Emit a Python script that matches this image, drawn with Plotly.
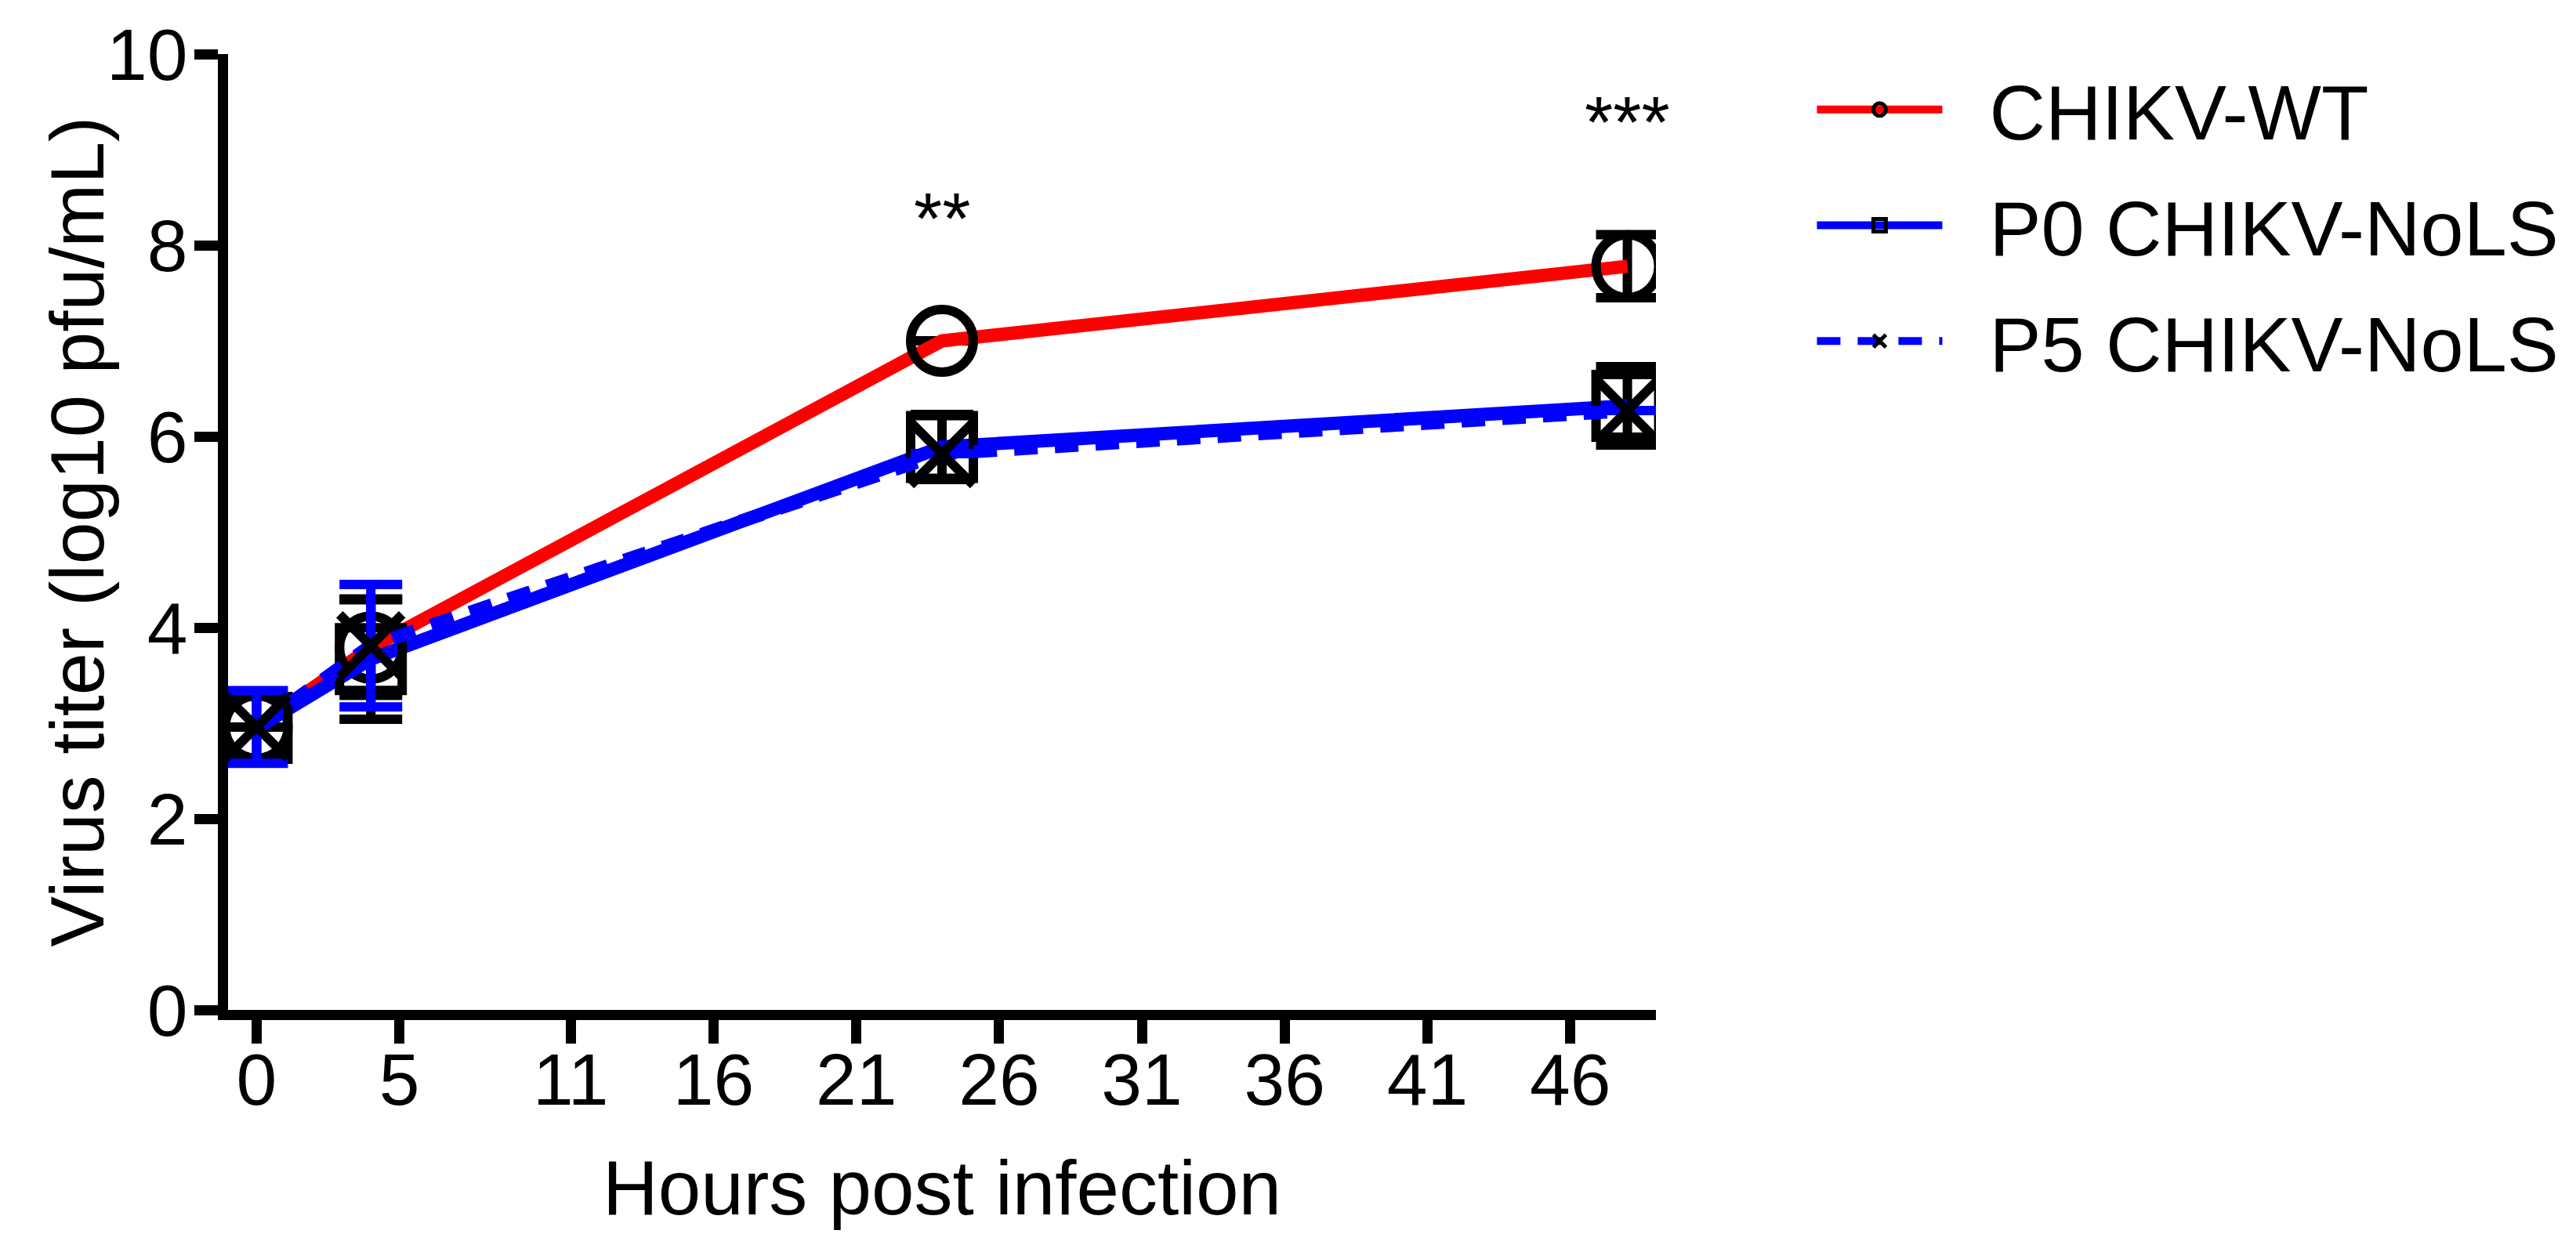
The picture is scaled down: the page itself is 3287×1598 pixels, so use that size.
import plotly.graph_objects as go

# ---- data ----
hours = [0, 4, 24, 48]

wt_titer = [2.96, 3.79, 7.00, 7.78]
wt_err = [0.0, 0.50, 0.0, 0.33]

p0_titer = [2.95, 3.67, 5.89, 6.32]
p0_err = [0.33, 0.63, 0.34, 0.41]

p5_titer = [2.96, 3.81, 5.82, 6.27]
p5_err = [0.38, 0.64, 0.0, 0.0]

series_names = ["\u00a0\u00a0CHIKV-WT", "\u00a0\u00a0P0 CHIKV-NoLS", "\u00a0\u00a0P5 CHIKV-NoLS"]

x_tickvals = [0, 5, 11, 16, 21, 26, 31, 36, 41, 46]
x_ticktext = ["0", "5", "11", "16", "21", "26", "31", "36", "41", "46"]
y_tickvals = [0, 2, 4, 6, 8, 10]

sig_x = [24, 48]
sig_y = [8.28, 9.29]
sig_text = ["**", "***"]

FONT = "Liberation Sans, Arial, sans-serif"
RED = "#FF0000"
BLUE = "#0000FF"
BLACK = "#000000"

fig = go.Figure()

def add_series(name, y, err, line_color, dash, symbol, err_color, group):
    fig.add_trace(go.Scatter(
        x=hours, y=y, name=name, mode="lines+markers",
        legendgroup=group,
        line=dict(color=line_color, width=17, dash=dash),
        marker=dict(symbol=symbol, size=80, color=BLACK,
                    line=dict(color=BLACK, width=12)),
        error_y=dict(type="data", array=err, visible=True,
                     color=err_color, thickness=12, width=40),
    ))

add_series(series_names[0], wt_titer, wt_err, RED, "solid", "circle-open", BLACK, "g1")
add_series(series_names[1], p0_titer, p0_err, BLUE, "solid", "square-open", BLACK, "g2")
add_series(series_names[2], p5_titer, p5_err, BLUE, "30px,22px", "x-thin-open", BLUE, "g3")

for xs, ys, t in zip(sig_x, sig_y, sig_text):
    fig.add_annotation(x=xs, y=ys, text=t, showarrow=False,
                       xref="x", yref="y", xanchor="center", yanchor="middle",
                       font=dict(family=FONT, size=93, color=BLACK))

# y-axis title placed as rotated text left of the tick labels
fig.add_annotation(x=-0.106, y=0.5, xref="paper", yref="paper",
                   text="Virus titer (log10 pfu/mL)", textangle=-90,
                   showarrow=False, xanchor="center", yanchor="middle",
                   font=dict(family=FONT, size=97, color=BLACK))

fig.update_layout(
    width=3287, height=1598,
    paper_bgcolor="white", plot_bgcolor="white",
    margin=dict(l=283, r=3287 - 2105, t=61, b=1598 - 1281, autoexpand=False),
    font=dict(family=FONT, color=BLACK),
    showlegend=True,
    legend=dict(
        x=1.11, y=1.0, xanchor="left", yanchor="top",
        font=dict(family=FONT, size=99, color=BLACK),
        traceorder="grouped", tracegroupgap=16,
        itemwidth=160, itemsizing="trace",
        bgcolor="rgba(0,0,0,0)",
    ),
    xaxis=dict(
        range=[-1, 49], showgrid=False, zeroline=False,
        showline=True, linecolor=BLACK, linewidth=13,
        ticks="outside", ticklen=30, tickwidth=13, tickcolor=BLACK,
        tickvals=x_tickvals, ticktext=x_ticktext,
        tickfont=dict(family=FONT, size=93, color=BLACK),
        ticklabelstandoff=-34,
        title=dict(text="Hours post infection", standoff=58,
                   font=dict(family=FONT, size=98, color=BLACK)),
        automargin=False,
    ),
    yaxis=dict(
        range=[0, 10], showgrid=False, zeroline=False,
        showline=True, linecolor=BLACK, linewidth=13,
        ticks="outside", ticklen=30, tickwidth=13, tickcolor=BLACK,
        tickvals=y_tickvals,
        tickfont=dict(family=FONT, size=93, color=BLACK),
        ticklabelstandoff=-10,
        automargin=False,
    ),
)

fig.write_html("out.html")
